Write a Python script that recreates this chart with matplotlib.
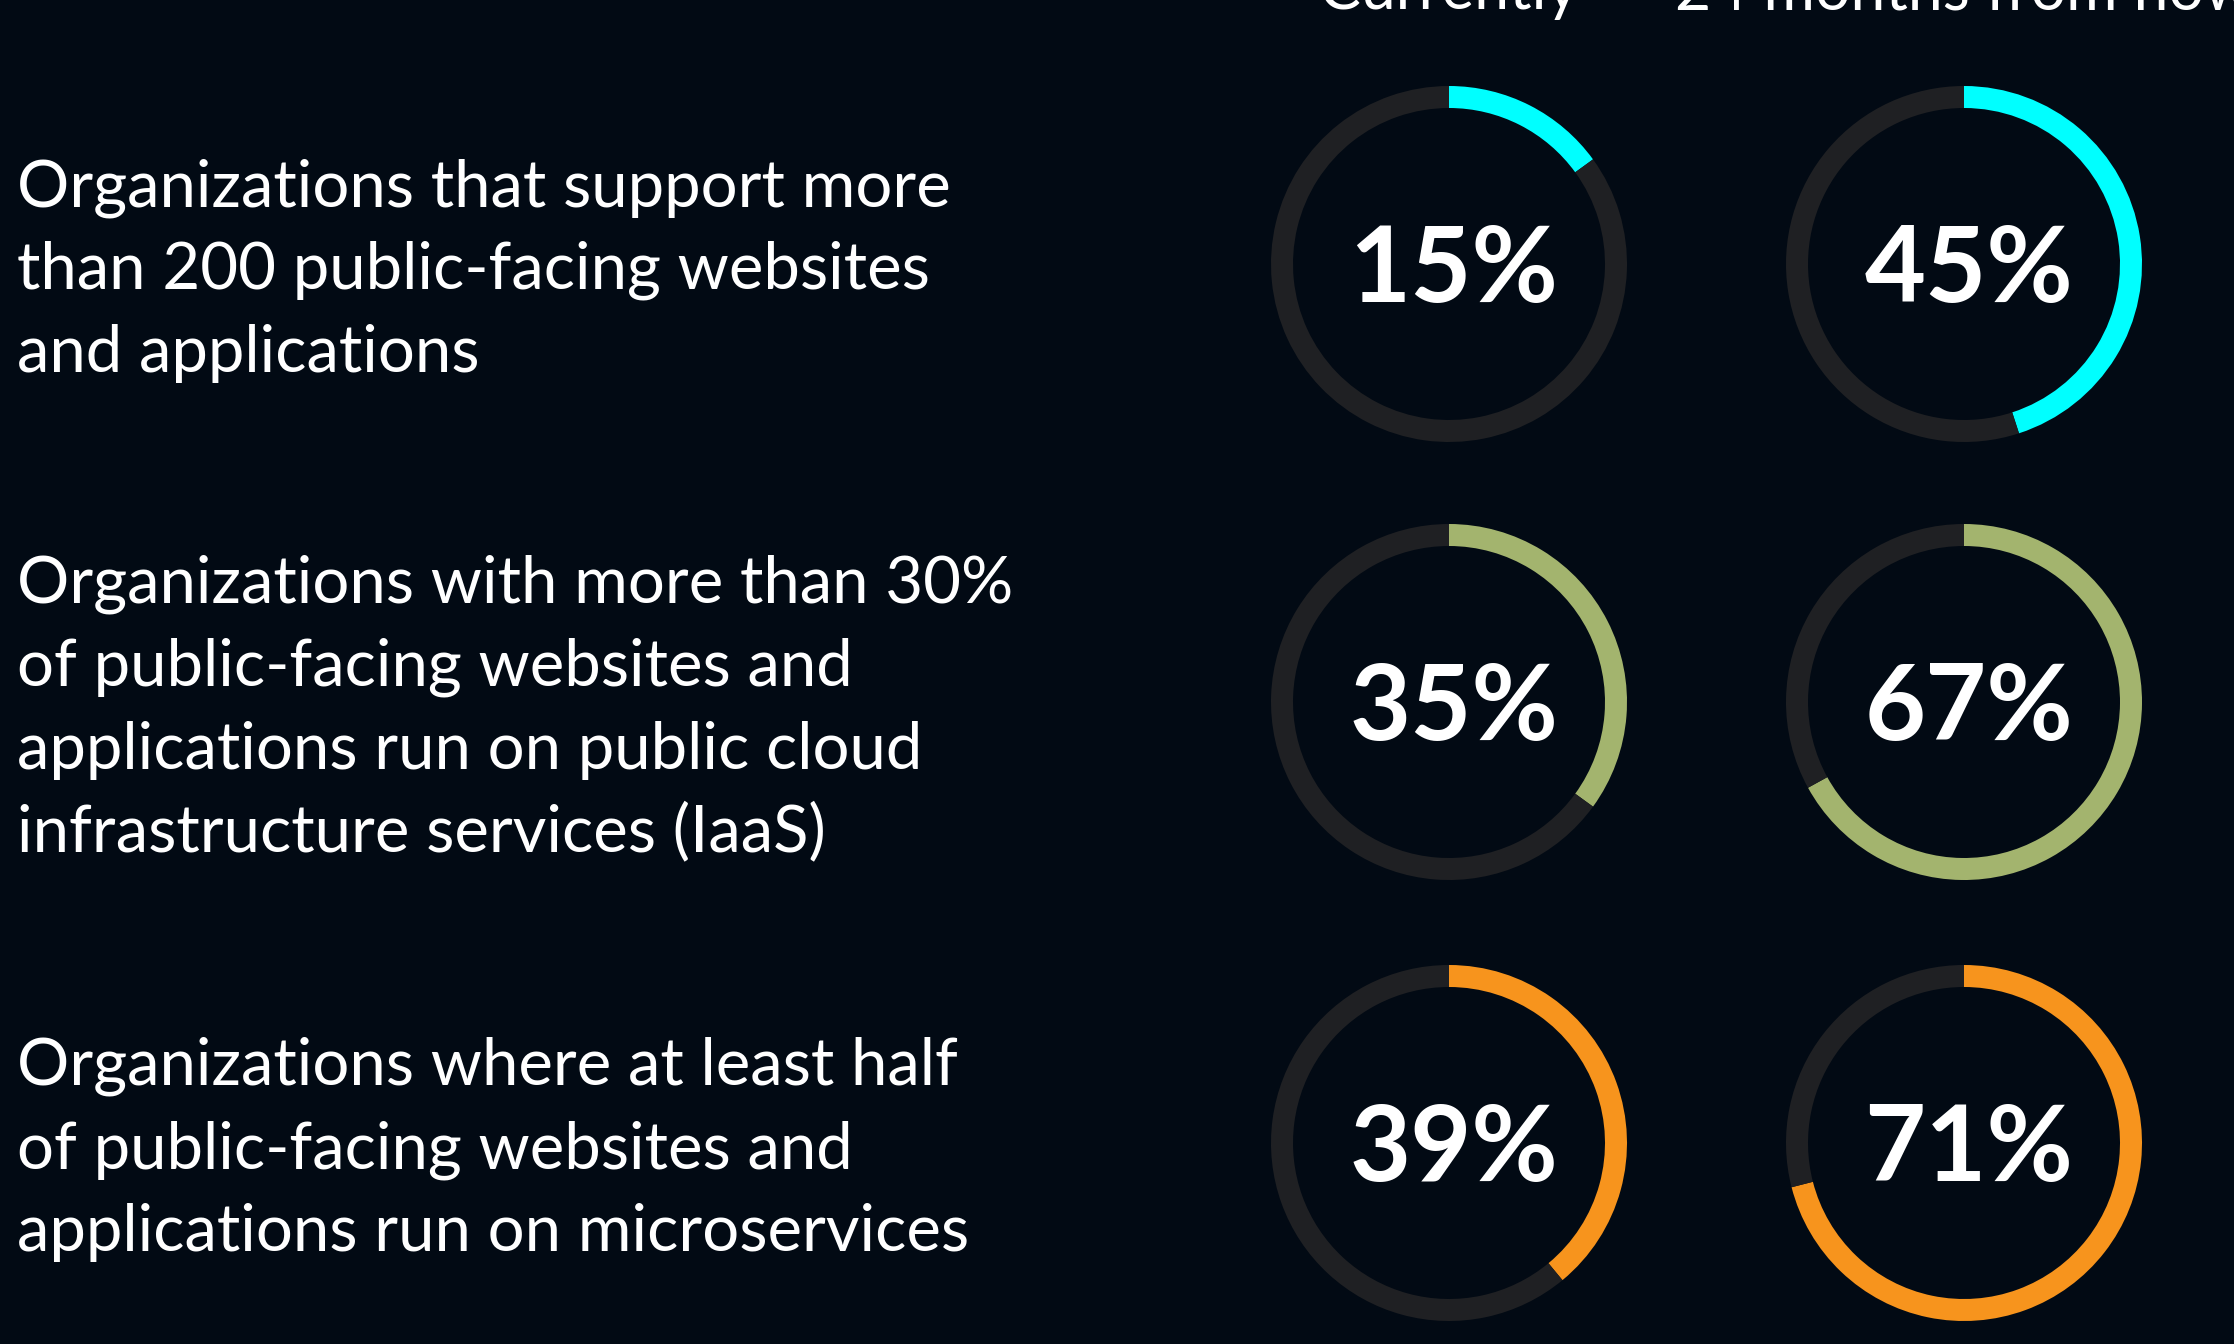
import numpy as np
import matplotlib.pyplot as plt

# survey values (percent)
labels = [
    ["Organizations that support more",
     "than 200 public-facing websites",
     "and applications"],
    ["Organizations with more than 30%",
     "of public-facing websites and",
     "applications run on public cloud",
     "infrastructure services (IaaS)"],
    ["Organizations where at least half",
     "of public-facing websites and",
     "applications run on microservices"],
]
columns = ["Currently", "24 months from now"]
currently = [15, 35, 39]
in_24_months = [45, 67, 71]
ring_colors = ["#00ffff", "#a3b46e", "#f7941d"]

bg = "#020a14"
track = "#1f2023"

W, H = 2234, 1344
fig = plt.figure(figsize=(W / 100, H / 100), dpi=100, facecolor=bg)
ax = fig.add_axes([0, 0, 1, 1])
ax.set_facecolor(bg)

col_x = [1449, 1964]
row_y = [264, 702, 1143]
r_out = 178
ring_w = 22
line_h = 83

font = "Lato"

for i in range(3):
    vals = [currently[i], in_24_months[i]]
    for j in range(2):
        v = vals[j]
        # y axis is inverted below, so counterclock here reads clockwise on screen
        ax.pie([v, 100 - v], colors=[ring_colors[i], track], startangle=-90,
               counterclock=True, radius=r_out, center=(col_x[j], row_y[i]),
               wedgeprops=dict(width=ring_w, linewidth=0))
        ax.text(col_x[j] + 5, row_y[i] + 38, f"{v}%", color="white", fontsize=76,
                fontweight="bold", family=font, ha="center", va="baseline")

    # left description, one line at a time
    n = len(labels[i])
    first = row_y[i] + 25 - line_h * (n - 1) / 2
    for k, line in enumerate(labels[i]):
        ax.text(17, first + k * line_h, line, color="white", fontsize=47,
                family=font, ha="left", va="baseline")

for j, name in enumerate(columns):
    ax.text(col_x[j], 9, name, color="white", fontsize=45, family=font,
            ha="center", va="baseline")

ax.set_xlim(0, W)
ax.set_ylim(H, 0)
ax.set_aspect("auto")
ax.axis("off")

fig.savefig("out.png", dpi=100, facecolor=bg)
